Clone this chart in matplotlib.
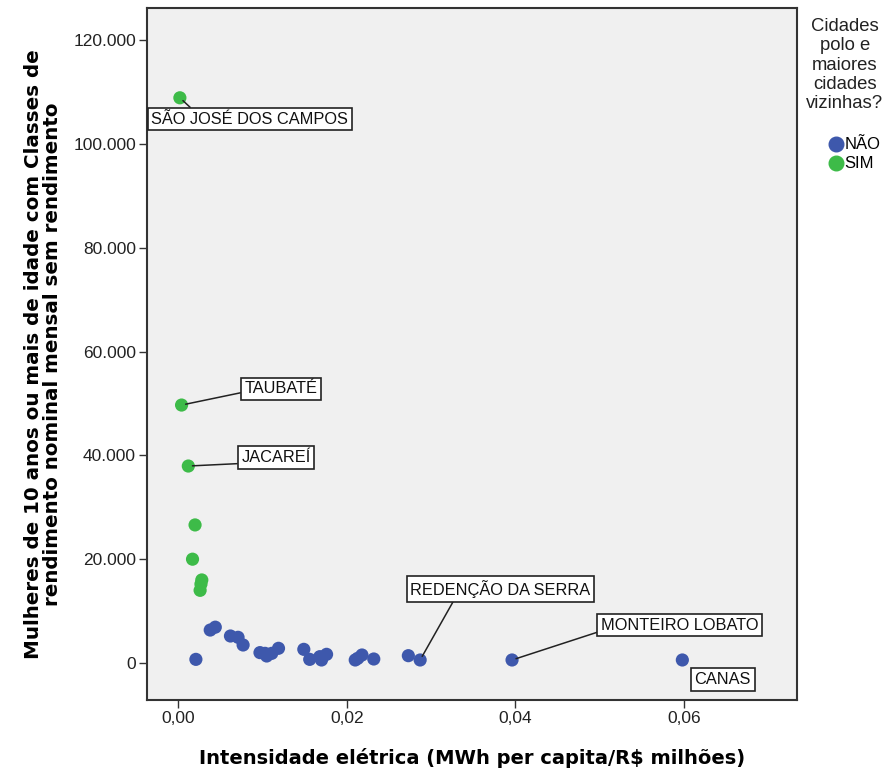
import matplotlib
matplotlib.use("Agg")
import matplotlib.pyplot as plt
from matplotlib.ticker import FuncFormatter
from matplotlib.lines import Line2D

# Data
nao_x = [0.0021, 0.0038, 0.0044, 0.0062, 0.0071, 0.0077, 0.0097, 0.0103, 0.0105,
         0.0111, 0.0119, 0.0149, 0.0156, 0.0168, 0.0170, 0.0176, 0.0210, 0.0213,
         0.0218, 0.0232, 0.0273, 0.0287, 0.0396, 0.0598]
nao_y = [700, 6350, 6900, 5200, 4950, 3470, 2000, 1860, 1350,
         1860, 2830, 2630, 700, 1220, 580, 1670, 580, 900,
         1540, 770, 1410, 580, 580, 580]
sim_x = [0.0002, 0.0004, 0.0012, 0.0020, 0.0017, 0.0028, 0.0027, 0.0026]
sim_y = [108900, 49700, 37950, 26600, 20000, 16000, 15200, 14000]

labels = ["SÃO JOSÉ DOS CAMPOS", "TAUBATÉ", "JACAREÍ",
          "REDENÇÃO DA SERRA", "MONTEIRO LOBATO", "CANAS"]
label_pts = [(0.0002, 108900), (0.0004, 49700), (0.0012, 37950),
             (0.0287, 580), (0.0396, 580), (0.0598, 580)]
label_txt = [(0.0085, 104800), (0.0122, 52800), (0.0116, 39600),
             (0.0382, 14260), (0.0595, 7320), (0.0646, -3180)]
label_relpos = [(0.22, 1.0), (0.0, 0.3), (0.0, 0.1),
                (0.25, 0.0), (0.0, 0.1), None]

blue = "#3E58AC"
green = "#3DBB48"

fig = plt.figure(figsize=(8.93, 7.71), dpi=100)
ax = fig.add_axes([147/893, 1-700/771, (797-147)/893, (700-8)/771])
ax.set_facecolor("#F0F0F0")

ax.scatter(nao_x, nao_y, s=90, color=blue, edgecolors="none", zorder=3)
ax.scatter(sim_x, sim_y, s=90, color=green, edgecolors="none", zorder=3)

for lab, p, t, rp in zip(labels, label_pts, label_txt, label_relpos):
    ax.annotate(lab, xy=p, xytext=t, ha="center", va="center",
                fontsize=11.8, family="Liberation Sans", color="#111111",
                bbox=dict(boxstyle="square,pad=0.22", fc="white", ec="#222222", lw=1.2),
                arrowprops=(dict(arrowstyle="-", color="#222222", lw=1.1,
                                 shrinkA=0, shrinkB=3, relpos=rp) if rp else None),
                zorder=4)

ax.set_xlim(-0.0037, 0.0734)
ax.set_ylim(-7130, 126200)
ax.set_xticks([0.0, 0.02, 0.04, 0.06])
ax.set_yticks([0, 20000, 40000, 60000, 80000, 100000, 120000])
ax.xaxis.set_major_formatter(FuncFormatter(lambda v, p: f"{v:.2f}".replace(".", ",")))
ax.yaxis.set_major_formatter(FuncFormatter(lambda v, p: f"{int(round(v)):,}".replace(",", ".")))
for lab in ax.get_xticklabels() + ax.get_yticklabels():
    lab.set_family("Liberation Sans")
    lab.set_fontsize(12.5)
    lab.set_color("#222222")
ax.tick_params(direction="out", length=6, width=1, color="#333333", pad=2)
for s in ax.spines.values():
    s.set_color("#333333")
    s.set_linewidth(1.5)

ax.set_xlabel("Intensidade elétrica (MWh per capita/R$ milhões)",
              family="DejaVu Sans", fontweight="bold", fontsize=14,
              labelpad=16)
ax.set_ylabel("Mulheres de 10 anos ou mais de idade com Classes de\nrendimento nominal mensal sem rendimento",
              family="DejaVu Sans", fontweight="bold", fontsize=14.3,
              labelpad=8, linespacing=1.0)

fig.text(845/893, 1-18/771, "Cidades\npolo e\nmaiores\ncidades\nvizinhas?",
         ha="center", va="top", fontsize=13.3, family="Liberation Sans",
         color="#222222", linespacing=1.18)
handles = [Line2D([], [], marker="o", ls="none", color=blue, markersize=10.5),
           Line2D([], [], marker="o", ls="none", color=green, markersize=10.5)]
leg = fig.legend(handles, ["NÃO", "SIM"], loc="upper left",
                 bbox_to_anchor=(818/893, 1-129/771), frameon=False,
                 handletextpad=-0.1, labelspacing=0.25, borderpad=0,
                 handlelength=1.2, prop={"family": "Liberation Sans", "size": 12})

fig.savefig("out.png", dpi=100)
